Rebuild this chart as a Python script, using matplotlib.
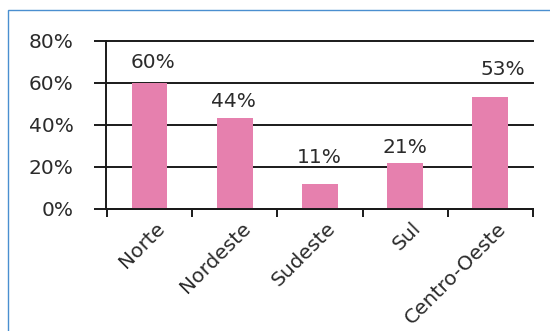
import matplotlib
matplotlib.use("Agg")
import matplotlib.pyplot as plt
import matplotlib.patches as patches
import matplotlib.transforms as mtransforms

regioes = ["Norte", "Nordeste", "Sudeste", "Sul", "Centro-Oeste"]
valores = [60, 43.5, 12, 22, 53.5]
rotulos = ["60%", "44%", "11%", "21%", "53%"]
yticks = [0, 20, 40, 60, 80]

# ajuste fino dos rotulos (px): desloc. horizontal e distancia acima da barra
rot_dx = [4, -1, -1, 0, 12]
rot_dy = [15, 11, 21, 10, 22]

ROSA = "#E680AE"
TEXTO = "#2b2b2b"
LINHA = "#1a1a1a"
FS = 14.5

plt.rcParams["font.family"] = ["DejaVu Sans"]

fig = plt.figure(figsize=(5.5, 3.31), dpi=100)
fig.patch.set_facecolor("white")

# moldura azul (cortada a direita e embaixo)
borda = patches.Rectangle((8 / 550, -0.2), 1.2, 1.2 - 10 / 331,
                          transform=fig.transFigure, fill=False,
                          edgecolor="#4A8FD0", linewidth=1.0)
fig.patches.append(borda)

ax = fig.add_axes([106 / 550, 1 - 209 / 331, (533 - 106) / 550, (209 - 41) / 331])
x = list(range(len(regioes)))
ax.bar(x, valores, width=0.42, color=ROSA, zorder=3)

ax.set_ylim(0, 80)
ax.set_xlim(-0.51, 4.32)
ax.set_yticks(yticks)
ax.set_yticklabels([f"{v}%" for v in yticks], color=TEXTO, fontsize=FS)
ax.yaxis.grid(True, color=LINHA, linewidth=1.4, zorder=1)
for gl in ax.get_ygridlines():
    gl.set_clip_on(False)
ax.tick_params(axis="y", length=9, width=1.4, pad=20 * 0.72, color=LINHA)

# ticks entre categorias
ax.set_xticks([i + 0.5 for i in range(-1, len(regioes))], minor=True)
ax.tick_params(axis="x", which="minor", length=6, width=1.4, color=LINHA)
ax.set_xticks(x)
ax.set_xticklabels(regioes, rotation=45, ha="right", va="top",
                   rotation_mode="anchor", color=TEXTO, fontsize=FS)
ax.tick_params(axis="x", which="major", length=0, pad=7)
desloc = mtransforms.ScaledTranslation(6 / 100, 0, fig.dpi_scale_trans)
for lab in ax.get_xticklabels():
    lab.set_transform(lab.get_transform() + desloc)

for s in ["top", "right"]:
    ax.spines[s].set_visible(False)
for s in ["left", "bottom"]:
    ax.spines[s].set_linewidth(1.4)
    ax.spines[s].set_color(LINHA)
    ax.spines[s].set_zorder(4)

for xi, v, r, dx, dy in zip(x, valores, rotulos, rot_dx, rot_dy):
    ax.annotate(r, (xi, v), xytext=(dx * 0.72, dy * 0.72), textcoords="offset points",
                ha="center", va="baseline", color=TEXTO, fontsize=FS)

fig.savefig("out.png", dpi=100)
